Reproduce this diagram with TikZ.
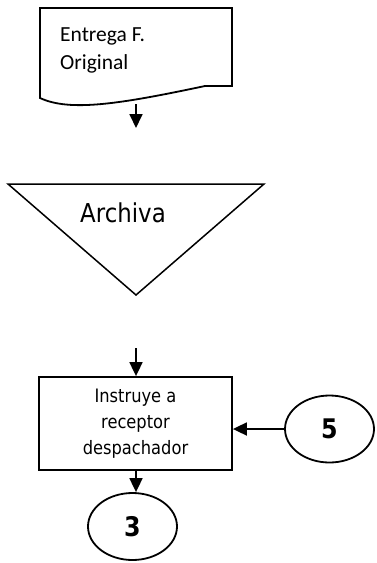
\documentclass[tikz,border=0pt]{standalone}
\usepackage{fontspec}
\usetikzlibrary{arrows.meta,shapes.geometric}
\setmainfont{Carlito}
\newfontfamily\tah{DejaVu Sans}[FakeStretch=0.88]
\begin{document}
\begin{tikzpicture}[x=1pt,y=-1pt,
  outline/.style={line width=1.8pt, line join=miter},
  flow/.style={line width=1.8pt, -{Triangle[length=14pt,width=13pt]}},
  connector/.style={draw, ellipse, line width=1.8pt, minimum width=89pt, minimum height=67pt, inner sep=0pt,
    font=\tah\fontsize{27}{27}\selectfont\bfseries},
  procbox/.style={draw, rectangle, line width=1.8pt, minimum width=193pt, minimum height=93pt, inner sep=0pt,
    align=center, font=\tah\fontsize{18.5}{26}\selectfont}]
\useasboundingbox (0,0) rectangle (376,563);

% document symbol
\node[minimum width=192pt, minimum height=98pt, inner sep=0pt, anchor=north west] (doc) at (40,8) {};
\draw[outline] (40,98) -- (40,8) -- (232,8) -- (232,86) -- (205,86)
  .. controls (120,104) and (70,112) .. (40,98) -- cycle;
\node[anchor=west, align=left, font=\fontsize{21.5}{28}\selectfont, inner sep=0pt] (doctext) at (60,50)
  {Entrega F.\\Original};
\coordinate (a1s) at (136,104);
\coordinate (a1e) at (136,128);
\draw[flow] (a1s) -- (a1e);

% storage triangle
\coordinate (tl) at (8,184);
\coordinate (tr) at (264,184);
\coordinate (tb) at (136,295);
\draw[line width=1.5pt, line join=miter] (tl) -- (tr) -- (tb) -- cycle;
\node[font=\tah\fontsize{26}{26}\selectfont, inner sep=0pt] (archiva) at (123,213) {Archiva};

% process box
\coordinate (a2s) at (136,348);
\node[procbox] (box) at (135.5,423.5) {Instruye a\\receptor\\despachador};
\draw[flow] (a2s) -- (box.north -| a2s);

% off-page connectors
\node[connector] (c3) at (132.5,526.5) {3};
\node[connector] (c5) at (329.5,429) {5};
\draw[flow] (box.south -| a2s) -- (c3.north -| a2s);
\draw[flow] (c5.west) -- (c5.west -| box.east);
\end{tikzpicture}
\end{document}
